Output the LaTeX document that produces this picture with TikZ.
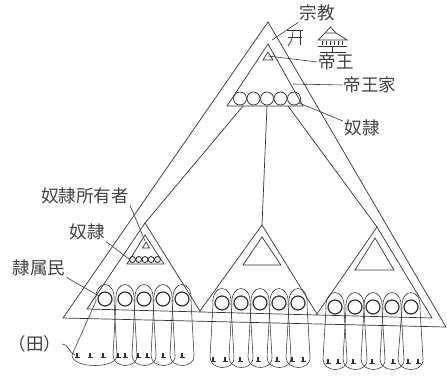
\documentclass[tikz,border=0pt]{standalone}
\usepackage{fontspec}
\newfontfamily\jafont{Noto Sans CJK JP}
\usetikzlibrary{calc}

\tikzset{
  lbl/.style={font=\jafont\fontsize{17.5}{17.5}\selectfont,inner sep=1pt,text=black!75},
  ring/.style={line width=1.2pt},
  lead/.style={line width=0.6pt},
}

\begin{document}
\begin{tikzpicture}[x=1pt,y=-1pt,line width=0.7pt,black!80]
            \useasboundingbox (0,0) rectangle (447,378);

            % outer triangle and the royal house
            \coordinate (top) at (268,22);
            \coordinate (bl) at (63,318);
            \coordinate (br) at (446,327);
            \draw (top) -- (bl) -- (br) -- cycle;

            \coordinate (htop) at (268,44);
            \draw (htop) -- (227,106) -- (303,106) -- cycle;
            \coordinate (emp) at (268,56);
            \draw (268,52) -- (263,60) -- (273,60) -- cycle;
            \foreach \x in {240,253.5,267,280.5,294}
                \draw (\x,98.5) circle (6.5);
            \coordinate (hl) at (243,106);
            \coordinate (hm) at (267,106);
            \coordinate (hr) at (288,106);
            \coordinate (hring) at (299,103);

            % the three communities
            \coordinate (la) at (145,223);
            \coordinate (ma) at (262,225);
            \coordinate (ra) at (377,227);
            \coordinate (b1) at (87,309);
            \coordinate (b2) at (200,311);
            \coordinate (b3) at (317,314);
            \coordinate (b4) at (432,318);
            \draw (b1) -- (la) -- (b2) -- (ma) -- (b3) -- (ra) -- (b4) -- (b1);
            \draw (hl) -- (la);
            \draw (hm) -- (ma);
            \draw (hr) -- (ra);

            \draw (145,235) -- (127,264) -- (164,264) -- cycle;
            \draw (146,242) -- (142.5,248) -- (149.5,248) -- cycle;
            \coordinate (owner) at (145,241);
            \foreach \x in {132.5,138.75,145,151.25,157.5}
                \draw[line width=0.9pt] (\x,259.5) circle (3);
            \coordinate (slv) at (129,259);
            \draw (262,237) -- (243,265) -- (281,265) -- cycle;
            \draw (375,238) -- (355,270) -- (394,270) -- cycle;

            % members with their plots
            \foreach \cx/\cy/\yb/\dl in {105/299/355/33,125/299/355/12,144/299/355/12,163/299/355/12,182/299/355/12,
                                        222/303/357/12,241/303/357/12,260/303/357/12,279/303/357/12,298/303/357/12,
                                        335/307/359/12,355/307/359/12,373/307/359/12,392/307/359/12,411/307/359/13}{
                \draw[line width=0.55pt] ({\cx-9},{\cy+2}) .. controls ({\cx-11},{\cy-20}) and ({\cx+11},{\cy-20}) .. ({\cx+9},{\cy+2})
                    -- ({\cx+12},\yb) .. controls ({\cx+13},{\yb+14}) and ({\cx-\dl},{\yb+14}) .. ({\cx-\dl},\yb) -- cycle;
                \draw[ring,fill=white] (\cx,\cy) circle (7);
            }
            \coordinate (mem) at (99,296);
            \foreach \x/\y in {77/357,90/357,103/357,118/357,125/357,138/357,147/357,163/357,182/357,
                               213/361,225/361,240/361,258/361,277/361,292/361,303/361,
                               328/363,338/363,353/363,372/363,393/363,408/363,418/363}{
                \fill (\x-1.4,\y-4.5) rectangle (\x+1.4,\y);
                \draw[line width=0.4pt] (\x-2.5,\y) -- (\x+2.5,\y);
            }
            \coordinate (plot) at (75,355);

            % shrine gate and temple
            \draw (287,30.5) -- (303,30.5);
            \draw (288,37) -- (302,37);
            \draw (293,31) .. controls (292,40) .. (288,46);
            \draw (300,31) -- (300,45);
            \draw (325,33) -- (330.5,27) -- (336,33);
            \draw (318,40) -- (325,33) -- (336,33) -- (347,40) -- cycle;
            \foreach \x in {322.5,326.5,...,343}
                \draw[line width=1.1pt] (\x,41) -- (\x,45);
            \draw (318,46) -- (347,46);
            \draw (332,46) -- (332,52);
            \draw (320,52.5) -- (346,52.5);
            \coordinate (relig) at (272,40);

            % labels
            \node[lbl] (zongjiao) at (317,13) {宗教};
            \node[lbl] (diwang) at (336,62) {帝王};
            \node[lbl] (diwangjia) at (370,85) {帝王家};
            \node[lbl] (nuli) at (362,128) {奴隷};
            \node[lbl] (owners) at (85,196) {奴隷所有者};
            \node[lbl] (nuli2) at (87,232) {奴隷};
            \node[lbl] (lishu) at (39,268) {隷属民};
            \node[lbl] (tian) at (35,344) {（田）};

            \draw[lead] (zongjiao.south west) -- (relig);
            \draw[lead] (diwang.west) -- (emp);
            \draw[lead] (diwangjia.west) -- (293,84);
            \draw[lead] (nuli.160) -- (hring);
            \draw[lead] (owners.south east) -- (owner);
            \draw[lead] (nuli2.south east) -- (slv);
            \draw[lead] (lishu.south east) -- (mem);
            \draw[lead] (tian.east) to[out=-5,in=160] (plot);
        \end{tikzpicture}
\end{document}
